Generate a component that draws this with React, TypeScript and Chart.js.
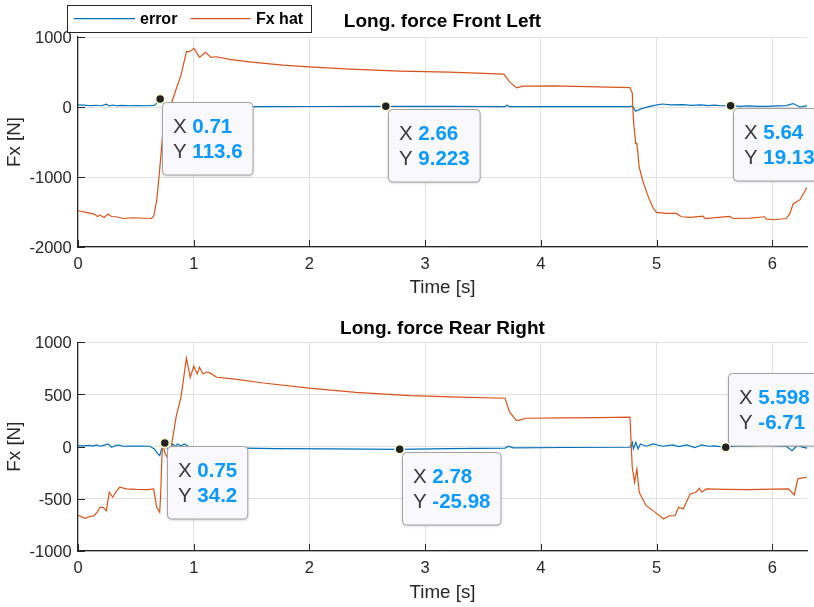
import React, { useEffect, useRef } from 'react';
import { Chart, registerables } from 'chart.js';

Chart.register(...registerables);

const FONT = '"Liberation Sans", Arial, Helvetica, sans-serif';
const BLUE = '#0072BD';
const ORANGE = '#D95319';
const AXIS = '#262626';
const GRID = '#e1e1e1';

// shared x ticks
const timeTicks = [0, 1, 2, 3, 4, 5, 6];
const topYTicks = [-2000, -1000, 0, 1000];
const botYTicks = [-1000, -500, 0, 500, 1000];

// ---------- Front Left ----------
const topErrT = [0, 0.04, 0.08, 0.12, 0.16, 0.2, 0.245, 0.27, 0.3, 0.33, 0.38, 0.45, 0.5, 0.6, 0.66, 0.69, 0.71, 0.74, 0.78, 0.85, 1.0, 1.5, 2.0, 2.66, 3.2, 3.69, 3.71, 3.73, 4.2, 4.77, 4.79, 4.82, 4.86, 4.9, 4.97, 5.05, 5.12, 5.23, 5.3, 5.38, 5.45, 5.5, 5.56, 5.64, 5.72, 5.8, 5.88, 5.95, 6.05, 6.12, 6.18, 6.24, 6.27, 6.3];
const topErrV = [30, 28, 22, 20, 25, 18, 39, 15, 28, 18, 22, 18, 20, 18, 22, 70, 113.6, 40, 10, 5, 5, 6, 7, 9.223, 8, 6, 25, 5, 5, 6, 15, -62, -30, -10, 20, 43, 30, 34, 22, 30, 20, 28, 18, 19.13, 10, 16, 8, 10, 15, 20, 49, 0, 8, 15];

const topFxT = [0, 0.07, 0.14, 0.17, 0.19, 0.225, 0.26, 0.29, 0.33, 0.39, 0.475, 0.635, 0.655, 0.68, 0.7, 0.72, 0.735, 0.77, 0.816, 0.85, 0.89, 0.937, 0.965, 1.003, 1.05, 1.1, 1.15, 1.196, 1.31, 1.48, 1.77, 2.0, 2.35, 2.78, 3.21, 3.68, 3.73, 3.79, 3.85, 3.93, 4.1, 4.4, 4.77, 4.79, 4.8, 4.82, 4.83, 4.85, 4.88, 4.93, 4.97, 5.0, 5.085, 5.17, 5.215, 5.29, 5.4, 5.42, 5.63, 5.66, 5.81, 5.935, 5.95, 6.02, 6.12, 6.15, 6.18, 6.24, 6.3];
const topFxV = [-1482, -1506, -1530, -1564, -1544, -1578, -1530, -1564, -1568, -1593, -1582, -1593, -1554, -1339, -1004, -621, -334, -150, 96, 264, 455, 790, 790, 838, 709, 780, 709, 718, 680, 646, 598, 574, 541, 512, 498, 469, 359, 273, 297, 297, 301, 290, 278, 200, -191, -525, -520, -861, -1052, -1291, -1443, -1506, -1521, -1521, -1568, -1578, -1559, -1593, -1564, -1593, -1587, -1568, -1602, -1611, -1593, -1530, -1386, -1324, -1148];

const topTipX = [0.71, 2.66, 5.64];
const topTipY = [113.6, 9.223, 19.13];
const topTipUp = [false, false, false];

// ---------- Rear Right ----------
const botErrT = [0, 0.05, 0.1, 0.13, 0.16, 0.19, 0.23, 0.26, 0.29, 0.32, 0.345, 0.39, 0.45, 0.55, 0.62, 0.66, 0.69, 0.706, 0.72, 0.75, 0.78, 0.82, 0.84, 0.86, 0.89, 0.92, 0.96, 1.0, 1.3, 1.7, 2.2, 2.78, 3.2, 3.69, 3.72, 3.76, 4.2, 4.77, 4.79, 4.8, 4.82, 4.84, 4.86, 4.91, 4.97, 5.05, 5.14, 5.19, 5.26, 5.33, 5.39, 5.45, 5.5, 5.598, 5.7, 5.8, 5.95, 6.05, 6.12, 6.17, 6.22, 6.26, 6.3];
const botErrV = [10, 8, 12, 6, 16, 4, 14, 26, -6, 8, 16, 4, 6, 5, 4, -22, -70, -86, -30, 34.2, -40, 26, 0, 26, 5, 26, 0, -6, -12, -18, -22, -25.98, -18, -14, 4, -12, -8, -6, 42, -22, 42, -22, 26, 4, 26, 4, 16, 0, 16, -10, 16, 4, 8, -6.71, 10, 6, 16, 8, 4, -38, 16, -5, -15];

const botFxT = [0, 0.06, 0.1, 0.14, 0.17, 0.19, 0.22, 0.245, 0.27, 0.3, 0.33, 0.36, 0.42, 0.5, 0.6, 0.654, 0.68, 0.706, 0.715, 0.725, 0.735, 0.75, 0.77, 0.8, 0.85, 0.89, 0.937, 0.97, 1.0, 1.03, 1.05, 1.08, 1.11, 1.14, 1.2, 1.34, 1.6, 2.0, 2.4, 2.87, 3.3, 3.69, 3.73, 3.79, 3.84, 3.87, 4.2, 4.5, 4.77, 4.79, 4.81, 4.83, 4.85, 4.91, 4.97, 5.06, 5.11, 5.16, 5.19, 5.23, 5.29, 5.34, 5.37, 5.39, 5.43, 5.6, 5.8, 6.0, 6.14, 6.19, 6.22, 6.26, 6.3];
const botFxV = [-655, -687, -670, -662, -620, -581, -585, -613, -437, -485, -430, -389, -405, -410, -412, -405, -581, -629, -450, -100, 40, -60, -100, -40, 297, 473, 848, 665, 771, 697, 761, 697, 715, 707, 665, 649, 610, 560, 520, 489, 475, 464, 330, 249, 262, 272, 276, 279, 282, -200, -341, -214, -437, -566, -613, -693, -662, -662, -581, -597, -453, -437, -399, -437, -405, -410, -412, -408, -405, -463, -310, -300, -293];

const botTipX = [0.75, 2.78, 5.598];
const botTipY = [34.2, -25.98, -6.71];
const botTipUp = [false, false, true];

const seriesNames = ['error', 'Fx hat'];

type PlotCfg = {
  key: string;
  title: string;
  height: number;
  titlePad: { top: number; bottom: number };
  xTitlePadBottom: number;
  yMin: number;
  yMax: number;
  yTicks: number[];
  errT: number[];
  errV: number[];
  fxT: number[];
  fxV: number[];
  tipX: number[];
  tipY: number[];
  tipUp: boolean[];
  legend: boolean;
};

function pathRound(ctx: CanvasRenderingContext2D, x: number, y: number, w: number, h: number, r: number) {
  ctx.beginPath();
  ctx.moveTo(x + r, y);
  ctx.lineTo(x + w - r, y);
  ctx.arcTo(x + w, y, x + w, y + r, r);
  ctx.lineTo(x + w, y + h - r);
  ctx.arcTo(x + w, y + h, x + w - r, y + h, r);
  ctx.lineTo(x + r, y + h);
  ctx.arcTo(x, y + h, x, y + h - r, r);
  ctx.lineTo(x, y + r);
  ctx.arcTo(x, y, x + r, y, r);
  ctx.closePath();
}

function makePlugin(cfg: PlotCfg) {
  return {
    id: 'matlabLook' + cfg.key,
    beforeDatasetsDraw(chart: any) {
      const { ctx, chartArea: a, scales } = chart;
      const x = scales.x, y = scales.y;
      ctx.save();
      ctx.strokeStyle = AXIS;
      ctx.lineWidth = 1;
      for (const v of timeTicks) {
        const px = Math.round(x.getPixelForValue(v)) + 0.5;
        ctx.beginPath();
        ctx.moveTo(px, a.bottom);
        ctx.lineTo(px, a.bottom - 7);
        ctx.stroke();
      }
      for (const v of cfg.yTicks) {
        const py = Math.round(y.getPixelForValue(v)) + 0.5;
        ctx.beginPath();
        ctx.moveTo(a.left, py);
        ctx.lineTo(a.left + 7, py);
        ctx.stroke();
      }
      ctx.restore();
    },
    afterDraw(chart: any) {
      const { ctx, scales } = chart;
      const x = scales.x, y = scales.y;
      ctx.save();
      const norm = `20.5px ${FONT}`;
      const bold = `bold 20.5px ${FONT}`;
      const marks: [number, number][] = [];
      for (let i = 0; i < cfg.tipX.length; i++) {
        const mx = x.getPixelForValue(cfg.tipX[i]);
        const my = y.getPixelForValue(cfg.tipY[i]);
        marks.push([mx, my]);
        const lines: [string, string][] = [
          ['X ', String(cfg.tipX[i])],
          ['Y ', String(cfg.tipY[i])],
        ];
        let tw = 0;
        for (const [a, b] of lines) {
          ctx.font = norm;
          const wa = ctx.measureText(a).width;
          ctx.font = bold;
          const wb = ctx.measureText(b).width;
          tw = Math.max(tw, wa + wb);
        }
        const bw = tw + 21;
        const bh = 72.5;
        const bx = Math.round(mx + 2) + 0.5;
        const by = Math.round(cfg.tipUp[i] ? my - 2 - bh : my + 2.5) + 0.5;
        ctx.save();
        ctx.shadowColor = 'rgba(0,0,0,0.22)';
        ctx.shadowBlur = 3;
        ctx.shadowOffsetY = 1;
        pathRound(ctx, bx, by, bw, bh, 4);
        ctx.fillStyle = '#f8f8fd';
        ctx.fill();
        ctx.restore();
        pathRound(ctx, bx, by, bw, bh, 4);
        ctx.strokeStyle = '#a2a2a2';
        ctx.lineWidth = 1;
        ctx.stroke();
        ctx.textBaseline = 'alphabetic';
        ctx.textAlign = 'left';
        lines.forEach(([a, b], k) => {
          const base = by + 30.8 + k * 24.8;
          ctx.font = norm;
          ctx.fillStyle = '#3a3a3a';
          ctx.fillText(a, bx + 10.5, base);
          const wa = ctx.measureText(a).width;
          ctx.font = bold;
          ctx.fillStyle = '#0a99ff';
          ctx.fillText(b, bx + 10.5 + wa, base);
        });
      }
      for (const [mx, my] of marks) {
        ctx.beginPath();
        ctx.arc(mx, my, 4.5, 0, Math.PI * 2);
        ctx.fillStyle = '#222222';
        ctx.fill();
        ctx.lineWidth = 1.5;
        ctx.strokeStyle = '#fffbd2';
        ctx.stroke();
      }

      if (cfg.legend) {
        const ds = chart.data.datasets;
        ctx.fillStyle = '#ffffff';
        ctx.fillRect(67.5, 5.5, 244, 27);
        ctx.strokeStyle = AXIS;
        ctx.lineWidth = 1;
        ctx.strokeRect(67.5, 5.5, 244, 27);
        const items = [
          { x0: 74, x1: 135, tx: 140 },
          { x0: 190.5, x1: 250.5, tx: 256 },
        ];
        ctx.font = `bold 16px ${FONT}`;
        ctx.textBaseline = 'middle';
        ctx.textAlign = 'left';
        items.forEach((it, k) => {
          ctx.strokeStyle = ds[k].borderColor;
          ctx.lineWidth = 1.3;
          ctx.beginPath();
          ctx.moveTo(it.x0, 18.7);
          ctx.lineTo(it.x1, 18.7);
          ctx.stroke();
          ctx.fillStyle = '#000000';
          ctx.fillText(ds[k].label, it.tx, 19.5);
        });
      }
      ctx.restore();
    },
  };
}

function toPoints(t: number[], v: number[]) {
  return t.map((tt, i) => ({ x: tt, y: v[i] }));
}

function SubPlot({ cfg, top }: { cfg: PlotCfg; top: number }) {
  const ref = useRef<HTMLCanvasElement | null>(null);
  useEffect(() => {
    if (!ref.current) return;
    const chart = new Chart(ref.current, {
      type: 'line',
      data: {
        datasets: [
          {
            label: seriesNames[0],
            data: toPoints(cfg.errT, cfg.errV),
            borderColor: BLUE,
            borderWidth: 1.2,
            pointRadius: 0,
            tension: 0,
            order: 1,
          },
          {
            label: seriesNames[1],
            data: toPoints(cfg.fxT, cfg.fxV),
            borderColor: ORANGE,
            borderWidth: 1.2,
            pointRadius: 0,
            tension: 0,
            order: 0,
          },
        ],
      },
      options: {
        animation: false,
        responsive: false,
        devicePixelRatio: 1,
        layout: { padding: { left: 0, right: 7, top: 0, bottom: 0 } },
        plugins: {
          legend: { display: false },
          tooltip: { enabled: false },
          title: {
            display: true,
            text: cfg.title,
            fullSize: false,
            color: '#000000',
            font: { family: FONT, size: 19, weight: 'bold' },
            padding: cfg.titlePad,
          },
        },
        scales: {
          x: {
            type: 'linear',
            min: 0,
            max: 6.3,
            afterFit: (s: any) => {
              s.height = 56;
            },
            afterBuildTicks: (s: any) => {
              s.ticks = timeTicks.map((v) => ({ value: v }));
            },
            grid: { color: GRID, lineWidth: 1, drawTicks: false },
            border: { display: true, color: AXIS, width: 1.2 },
            ticks: {
              color: AXIS,
              padding: 9,
              maxRotation: 0,
              autoSkip: false,
              callback: (v: any) => String(v),
              font: { family: FONT, size: 16.5, lineHeight: 1 },
            },
            title: {
              display: true,
              text: 'Time [s]',
              color: AXIS,
              font: { family: FONT, size: 18.75 },
              padding: { top: 0, bottom: cfg.xTitlePadBottom },
            },
          },
          y: {
            type: 'linear',
            min: cfg.yMin,
            max: cfg.yMax,
            afterFit: (s: any) => {
              s.width = 78;
            },
            afterBuildTicks: (s: any) => {
              s.ticks = cfg.yTicks.map((v) => ({ value: v }));
            },
            grid: { color: GRID, lineWidth: 1, drawTicks: false },
            border: { display: true, color: AXIS, width: 1.2 },
            ticks: {
              color: AXIS,
              padding: 6.3,
              labelOffset: 1.5,
              autoSkip: false,
              callback: (v: any) => String(v),
              font: { family: FONT, size: 16.5 },
            },
            title: {
              display: true,
              text: 'Fx [N]',
              color: AXIS,
              font: { family: FONT, size: 18.75 },
              padding: { top: 3.75, bottom: 0 },
            },
          },
        },
      } as any,
      plugins: [makePlugin(cfg)],
    });
    return () => chart.destroy();
  }, [cfg]);
  return (
    <canvas
      ref={ref}
      width={814}
      height={cfg.height}
      style={{ position: 'absolute', left: 0, top, width: 814, height: cfg.height, display: 'block' }}
    />
  );
}

const topCfg: PlotCfg = {
  key: 'top',
  title: 'Long. force Front Left',
  height: 303,
  titlePad: { top: 10.8, bottom: 3.4 },
  xTitlePadBottom: 4.25,
  yMin: -2000,
  yMax: 1000,
  yTicks: topYTicks,
  errT: topErrT,
  errV: topErrV,
  fxT: topFxT,
  fxV: topFxV,
  tipX: topTipX,
  tipY: topTipY,
  tipUp: topTipUp,
  legend: true,
};

const botCfg: PlotCfg = {
  key: 'bot',
  title: 'Long. force Rear Right',
  height: 304,
  titlePad: { top: 13.9, bottom: 2.6 },
  xTitlePadBottom: 3,
  yMin: -1000,
  yMax: 1000,
  yTicks: botYTicks,
  errT: botErrT,
  errV: botErrV,
  fxT: botFxT,
  fxV: botFxV,
  tipX: botTipX,
  tipY: botTipY,
  tipUp: botTipUp,
  legend: false,
};

export default function App() {
  return (
    <div style={{ position: 'absolute', left: 0, top: 0, width: 814, height: 607, background: '#ffffff', overflow: 'hidden' }}>
      <SubPlot cfg={topCfg} top={0} />
      <SubPlot cfg={botCfg} top={303} />
    </div>
  );
}
